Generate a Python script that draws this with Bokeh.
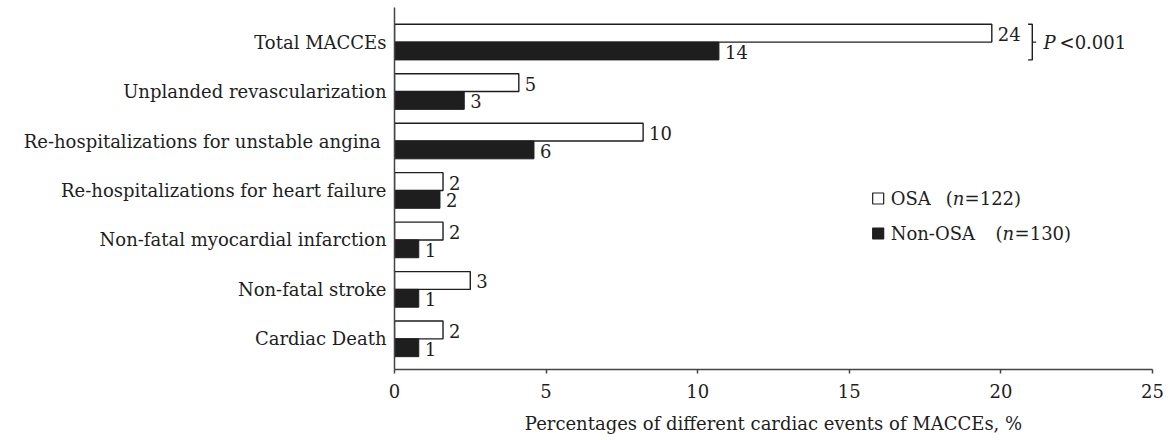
from bokeh.plotting import figure
from bokeh.models import FixedTicker, Range1d, ColumnDataSource
from bokeh.embed import file_html
from bokeh.resources import INLINE
from bokeh.core.properties import value

# ---------------- data ----------------
categories = [
    "Total MACCEs",
    "Unplanded revascularization",
    "Re-hospitalizations for  unstable angina",
    "Re-hospitalizations for heart failure",
    "Non-fatal myocardial infarction",
    "Non-fatal stroke",
    "Cardiac Death",
]
osa_pct = [19.7, 4.1, 8.2, 1.6, 1.6, 2.5, 1.6]
non_osa_pct = [10.7, 2.3, 4.6, 1.5, 0.8, 0.8, 0.8]
osa_n = [24, 5, 10, 2, 2, 3, 2]
non_osa_n = [14, 3, 6, 2, 1, 1, 1]
x_ticks = [0, 5, 10, 15, 20, 25]
series_names = ["OSA", "Non-OSA"]
series_n = ["=122)", "=130)"]
p_text = "<0.001"
x_title = "Percentages of different cardiac events of MACCEs, %"

# ---------------- style ----------------
FNAME = "DejaVu Serif"
FONT = value(FNAME)
FS = "18px"
DARK = "#1e1e1e"
AXIS = "#444444"
BAR_H = 0.36

n_cat = len(categories)
centers = [n_cat - 0.5 - i for i in range(n_cat)]
osa_y = [c + BAR_H / 2 for c in centers]
non_y = [c - BAR_H / 2 for c in centers]

p = figure(
    width=1170, height=440,
    x_range=Range1d(0, 25), y_range=Range1d(-0.12, 7.2),
    output_backend="svg", toolbar_location=None,
    min_border_left=394, min_border_right=18,
    min_border_top=7, min_border_bottom=71,
)
p.outline_line_color = None
p.grid.visible = False
p.background_fill_color = "white"
p.border_fill_color = "white"

src_osa = ColumnDataSource(dict(y=osa_y, right=osa_pct, lab=[str(v) for v in osa_n]))
src_non = ColumnDataSource(dict(y=non_y, right=non_osa_pct, lab=[str(v) for v in non_osa_n]))

p.hbar(y="y", right="right", left=0, height=BAR_H, source=src_osa,
       fill_color="white", line_color=DARK, line_width=1.4)
p.hbar(y="y", right="right", left=0, height=BAR_H, source=src_non,
       fill_color=DARK, line_color=DARK, line_width=1.0)

for src in (src_osa, src_non):
    p.text(x="right", y="y", text="lab", source=src, x_offset=6, y_offset=1,
           text_font=FONT, text_font_size=FS, text_color=DARK,
           text_baseline="middle", text_align="left")

# x axis
xa = p.xaxis[0]
xa.ticker = FixedTicker(ticks=x_ticks)
xa.minor_tick_line_color = None
xa.major_tick_in = 0
xa.major_tick_out = 4
xa.major_tick_line_color = AXIS
xa.major_tick_line_width = 1.5
xa.axis_line_color = AXIS
xa.axis_line_width = 1.5
xa.major_label_text_font = FNAME
xa.major_label_text_font_size = FS
xa.major_label_text_color = DARK
xa.major_label_standoff = 10
xa.axis_label = x_title
xa.axis_label_text_font = FNAME
xa.axis_label_text_font_size = FS
xa.axis_label_text_font_style = "normal"
xa.axis_label_text_color = DARK
xa.axis_label_standoff = 12

# y axis
ya = p.yaxis[0]
ya.ticker = FixedTicker(ticks=centers)
ya.major_label_overrides = {c: lab for c, lab in zip(centers, categories)}
ya.major_tick_in = 0
ya.major_tick_out = 0
ya.minor_tick_line_color = None
ya.axis_line_color = AXIS
ya.axis_line_width = 1.5
ya.major_label_text_font = FNAME
ya.major_label_text_font_size = FS
ya.major_label_text_color = DARK
ya.major_label_standoff = 8


# helpers converting page pixel position to data coordinates (annotations)
def dx(px):
    return (px - 393.5) / 30.34


def dy(py):
    return (369 - py) / 49.45 - 0.12


# legend
leg_y = [dy(198), dy(233)]
p.scatter(x=[dx(877.5)], y=[leg_y[0]], marker="square", size=11,
          fill_color="white", line_color=DARK, line_width=1.2)
p.scatter(x=[dx(877.5)], y=[leg_y[1]], marker="square", size=11,
          fill_color=DARK, line_color=DARK, line_width=1.2)
name_x = [890, 890]
paren_x = [945, 995]
n_x = [952, 1002]
rest_x = [964, 1014]
LFS = "18px"
for i in range(2):
    common = dict(y=[leg_y[i]], text_font=FONT, text_font_size=LFS,
                  text_color=DARK, text_baseline="middle", text_align="left")
    p.text(x=[dx(name_x[i])], text=[series_names[i]], **common)
    p.text(x=[dx(paren_x[i])], text=["("], **common)
    p.text(x=[dx(n_x[i])], text=["n"], text_font_style="italic", **common)
    p.text(x=[dx(rest_x[i])], text=[series_n[i]], **common)

# bracket with P value for Total MACCEs
top = osa_y[0] + BAR_H / 2
bot = non_y[0] - BAR_H / 2
mid = centers[0]
bx = dx(1031.7)
p.line(x=[dx(1027.5), bx, bx, dx(1027.5)], y=[top, top, bot, bot],
       line_color=DARK, line_width=1.4)
p.line(x=[bx, dx(1035.5)], y=[mid, mid], line_color=DARK, line_width=1.4)
p.text(x=[dx(1043)], y=[mid], text=["P"], text_font=FONT, text_font_size=LFS,
       text_font_style="italic", text_color=DARK, text_baseline="middle")
p.text(x=[dx(1059)], y=[mid], text=[p_text], text_font=FONT, text_font_size=LFS,
       text_color=DARK, text_baseline="middle")

open("out.html", "w").write(file_html(p, INLINE))
